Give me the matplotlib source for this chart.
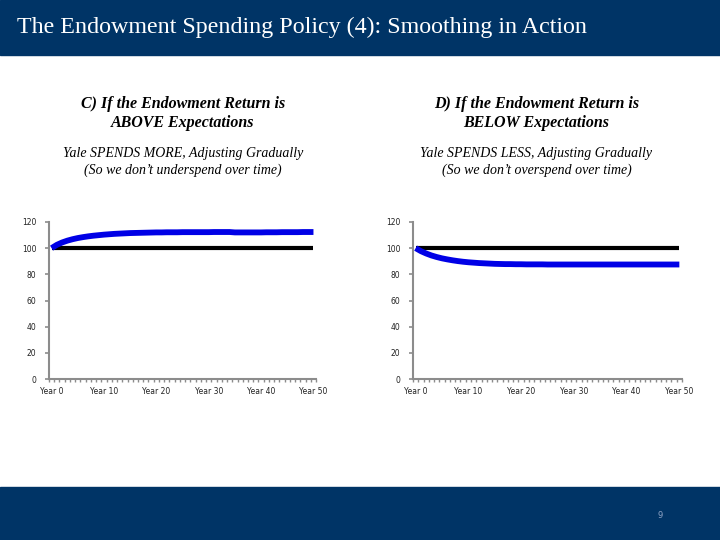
import numpy as np
import matplotlib
matplotlib.use('Agg')
import matplotlib.pyplot as plt
from matplotlib.patches import Rectangle

# Data (index = year 0..50)
years = list(range(51))
year_labels = ['Year 0', 'Year 10', 'Year 20', 'Year 30', 'Year 40', 'Year 50']
baseline = [100] * 51

spend_above = [100.0, 102.5, 104.3, 105.7, 106.8, 107.7, 108.4, 109.0, 109.5, 109.9,
               110.3, 110.6, 110.9, 111.1, 111.3, 111.5, 111.6, 111.7, 111.8, 111.9,
               112.0, 112.0, 112.1, 112.1, 112.1, 112.2, 112.2, 112.2, 112.2, 112.2,
               112.2, 112.3, 112.3, 112.3, 112.3, 112.0, 112.0, 112.0, 112.0, 112.0,
               112.0, 112.1, 112.1, 112.1, 112.2, 112.2, 112.2, 112.2, 112.3, 112.3, 112.3]

spend_below = [100.0, 97.7, 95.9, 94.4, 93.2, 92.2, 91.4, 90.7, 90.1, 89.6,
               89.2, 88.9, 88.6, 88.4, 88.2, 88.0, 87.9, 87.8, 87.8, 87.7,
               87.7, 87.6, 87.6, 87.6, 87.6, 87.5, 87.5, 87.5, 87.5, 87.5,
               87.5, 87.5, 87.5, 87.5, 87.5, 87.5, 87.5, 87.5, 87.5, 87.5,
               87.5, 87.5, 87.5, 87.5, 87.5, 87.5, 87.5, 87.5, 87.5, 87.5, 87.5]

navy = '#003466'
serif = ['Liberation Serif', 'DejaVu Serif']

fig = plt.figure(figsize=(7.2, 5.4), dpi=100)

# header and footer bands
fig.patches.append(Rectangle((0, 0.898), 1, 0.102, transform=fig.transFigure,
                             color=navy, zorder=0))
fig.patches.append(Rectangle((0, 0), 1, 0.098, transform=fig.transFigure,
                             color=navy, zorder=0))
fig.text(0.024, 0.949, 'The Endowment Spending Policy (4): Smoothing in Action',
         color='white', fontsize=17.3, family=serif, va='center', ha='left')
fig.text(0.917, 0.046, '9', color='#8fa3c4', fontsize=6, ha='center', va='center')


def draw_panel(rect, series, head, sub, cx):
    ax = fig.add_axes(rect)
    ax.plot(years, baseline, color='black', lw=3, solid_capstyle='butt', zorder=2)
    ax.plot(years, series, color='#0000e6', lw=4.2, solid_capstyle='butt', zorder=3)
    ax.set_xlim(-0.5, 50.5)
    ax.set_ylim(0, 120)
    ax.set_yticks(range(0, 121, 20))
    ax.set_xticks(range(0, 51, 10))
    ax.set_xticklabels(year_labels)
    ax.set_xticks(np.arange(-0.5, 51, 1), minor=True)
    for s in ['top', 'right']:
        ax.spines[s].set_visible(False)
    for s in ['left', 'bottom']:
        ax.spines[s].set_color('#8c8c8c')
        ax.spines[s].set_linewidth(1.5)
    ax.tick_params(axis='y', length=3, width=1.2, color='#8c8c8c',
                   labelsize=5.5, pad=6, labelcolor='#222222')
    ax.tick_params(axis='x', which='major', length=0, labelsize=5.5, pad=6,
                   labelcolor='#222222')
    ax.tick_params(axis='x', which='minor', length=2.5, width=1, color='#8c8c8c')
    fig.text(cx, 0.79, head, ha='center', va='center', family=serif,
             fontsize=11.5, fontstyle='italic', fontweight='bold', linespacing=1.3)
    fig.text(cx, 0.70, sub, ha='center', va='center', family=serif,
             fontsize=10, fontstyle='italic', linespacing=1.35)
    return ax


draw_panel([0.068, 0.298, 0.371, 0.291], spend_above,
           'C) If the Endowment Return is\nABOVE Expectations',
           'Yale SPENDS MORE, Adjusting Gradually\n(So we don\u2019t underspend over time)',
           0.254)
draw_panel([0.5736, 0.298, 0.3736, 0.291], spend_below,
           'D) If the Endowment Return is\nBELOW Expectations',
           'Yale SPENDS LESS, Adjusting Gradually\n(So we don\u2019t overspend over time)',
           0.745)

fig.savefig('out.png', dpi=100)
